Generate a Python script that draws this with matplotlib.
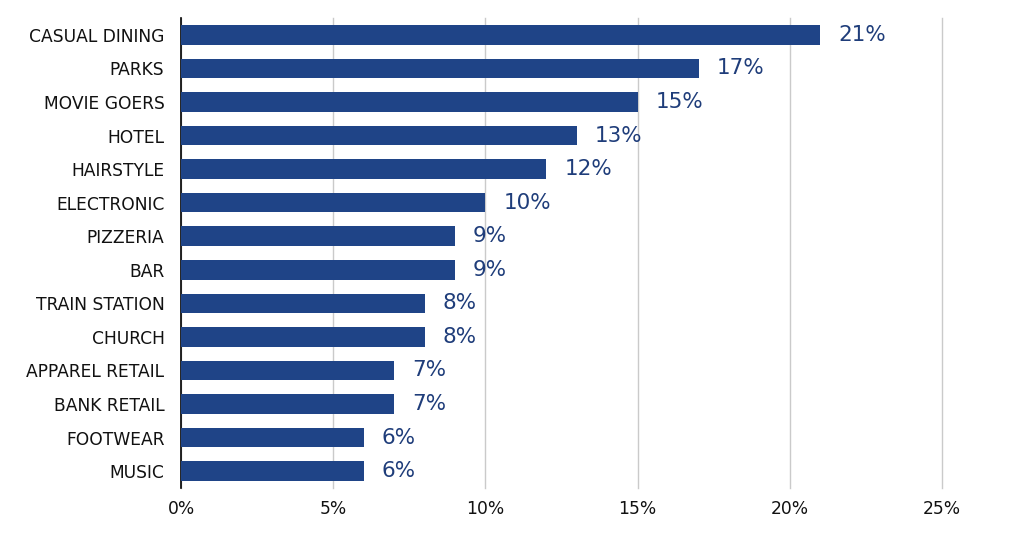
import matplotlib.pyplot as plt
from matplotlib.ticker import FuncFormatter

categories = ['CASUAL DINING', 'PARKS', 'MOVIE GOERS', 'HOTEL', 'HAIRSTYLE', 'ELECTRONIC',
              'PIZZERIA', 'BAR', 'TRAIN STATION', 'CHURCH', 'APPAREL RETAIL', 'BANK RETAIL',
              'FOOTWEAR', 'MUSIC']
values = [21, 17, 15, 13, 12, 10, 9, 9, 8, 8, 7, 7, 6, 6]
xticks = [0, 5, 10, 15, 20, 25]

bar_color = '#1f4487'
text_color = '#1f3d7a'

fig = plt.figure(figsize=(10.24, 5.5), dpi=100)
ax = fig.add_axes([0.1768, 0.113, 0.7432, 0.854])

ypos = list(range(len(categories)))
ax.barh(ypos, values, height=0.58, color=bar_color, zorder=3)
for y, v in zip(ypos, values):
    ax.annotate('%d%%' % v, xy=(v, y), xytext=(13, 0), textcoords='offset points',
                va='center', ha='left', fontsize=15.5, color=text_color)

ax.set_ylim(len(categories) - 0.5, -0.5)
ax.set_xlim(0, 25)
ax.set_xticks(xticks)
ax.xaxis.set_major_formatter(FuncFormatter(lambda x, _: '%d%%' % x))
ax.set_yticks(ypos)
ax.set_yticklabels(categories)
ax.tick_params(axis='both', length=0, labelsize=12.3, colors='#111111')
ax.tick_params(axis='x', pad=9)
ax.tick_params(axis='y', pad=12)
ax.grid(axis='x', color='#cacaca', linewidth=1.0, zorder=0)
for gl in ax.get_xgridlines():
    gl.set_clip_on(False)

for s in ['top', 'right', 'bottom']:
    ax.spines[s].set_visible(False)
ax.spines['left'].set_color('black')
ax.spines['left'].set_linewidth(1.2)

fig.savefig('out.png', dpi=100)
